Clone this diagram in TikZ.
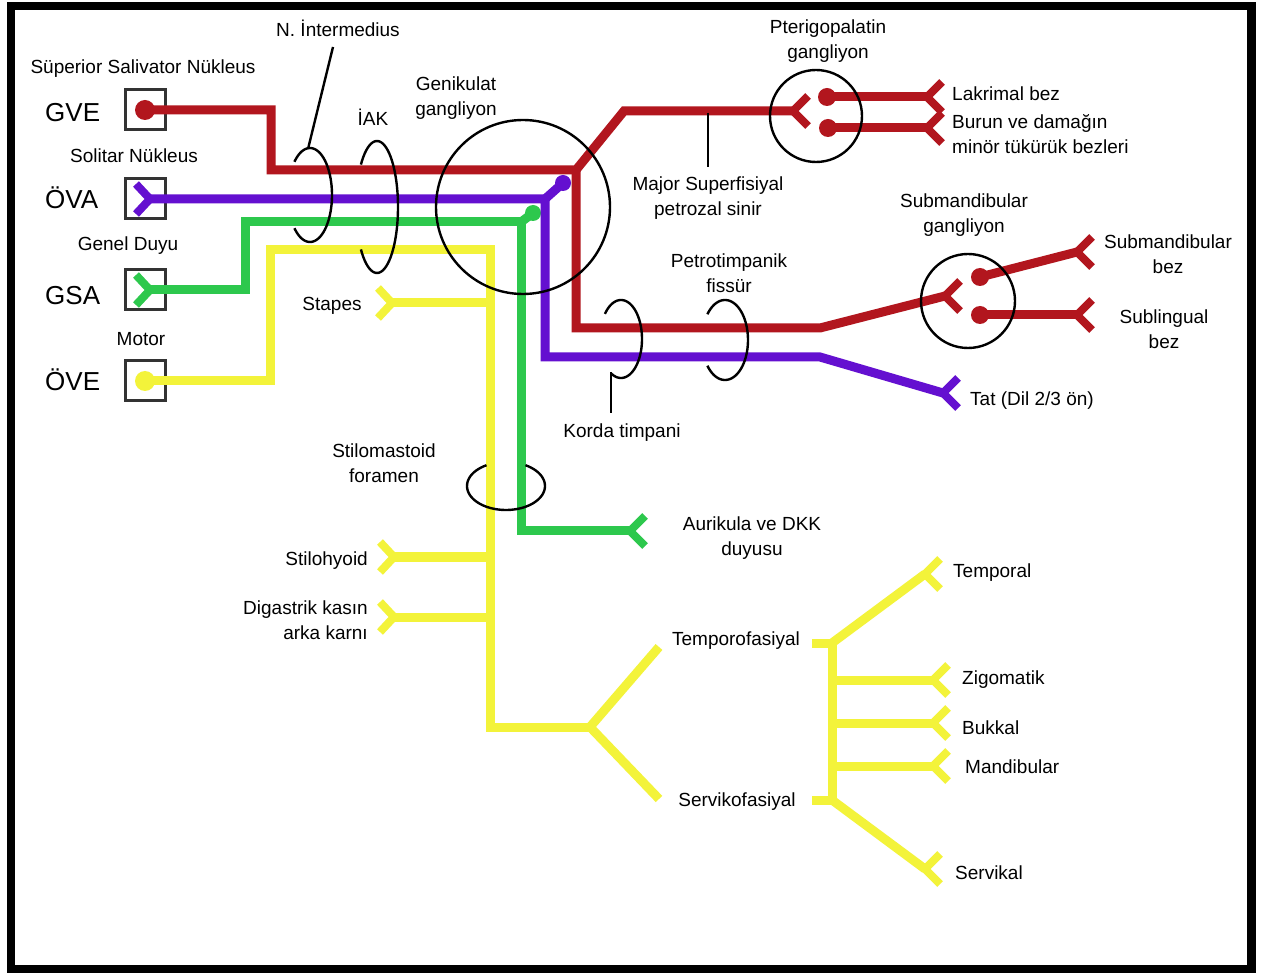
\documentclass[tikz,border=0pt]{standalone}
\usepackage{fontspec}
\setmainfont{Liberation Sans}
\definecolor{nred}{HTML}{B2161E}
\definecolor{npur}{HTML}{6410D0}
\definecolor{ngrn}{HTML}{2DC84D}
\definecolor{nyel}{HTML}{F3F33A}
\newcommand\forkR[2]{\draw[fork,#1] #2 ++(15,-15) -- ++(-15,15) -- ++(15,15);}
\newcommand\forkL[2]{\draw[fork,#1] #2 ++(-14,-15) -- ++(14,15) -- ++(-14,15);}
\newcommand\ringarc[6]{\draw[ring] plot[domain=#5:#6, samples=60, smooth] ({#1+#3*cos(\x)},{#2+#4*sin(\x)});}
\begin{document}
\begin{tikzpicture}[x=1pt,y=-1pt,
  nerve/.style={line width=9pt, line join=miter},
  fork/.style={line width=8pt, line join=miter},
  lbl/.style={font=\fontsize{19}{25}\selectfont, inner sep=0pt, align=center},
  sl/.style={yshift=-2.5pt},
  big/.style={font=\fontsize{26}{30}\selectfont, inner sep=0pt},
  ring/.style={line width=2.4pt, black},
  nbox/.style={draw=black!80, line width=3pt, minimum size=40pt, inner sep=0pt},
]
\useasboundingbox (0,0) rectangle (1262,973);
\fill[white] (0,0) rectangle (1262,973);
\draw[line width=8.5pt] (11,6) rectangle (1251.5,969);

% nucleus boxes
\node[nbox] (bgve) at (145,110) {};
\node[nbox] (bova) at (145,199) {};
\node[nbox] (bgsa) at (145,290) {};
\node[nbox] (bove) at (145,381) {};

% coordinates
\coordinate (rG) at (576,170);
\coordinate (pJ) at (545,199);
\coordinate (gJ) at (521,222);
\coordinate (ptf) at (793,111);
\coordinate (smf) at (945,296);
\coordinate (lak) at (927,97);
\coordinate (bur) at (927,128);
\coordinate (smb) at (1077,252);
\coordinate (slb) at (1077,315);
\coordinate (tat) at (943,393);
\coordinate (aur) at (630,531);
\coordinate (stp) at (392,303);
\coordinate (sth) at (394,557);
\coordinate (dig) at (394,617);
\coordinate (tmp) at (925,574);
\coordinate (zig) at (933,680);
\coordinate (buk) at (933,723);
\coordinate (man) at (933,766);
\coordinate (srv) at (925,869);
\coordinate (yF) at (590,727);

% red (GVE)
\draw[nerve,nred] (bgve.center) -- (271,110) -- (271,170) -- (rG) -- (624,111) -- (ptf);
\draw[nerve,nred] (rG) -- (576,328) -- (820,328) -- (smf);
\fill[nred] (bgve.center) circle (10);
\forkR{nred}{(ptf)}
\forkR{nred}{(smf)}
\draw[nerve,nred] (827,97) -- (lak);
\draw[nerve,nred] (828,128) -- (bur);
\fill[nred] (827,97) circle (9);
\fill[nred] (828,128) circle (9);
\forkR{nred}{(lak)}
\forkR{nred}{(bur)}
\draw[nerve,nred] (980,277) -- (smb);
\draw[nerve,nred] (980,315) -- (slb);
\fill[nred] (980,277) circle (9);
\fill[nred] (980,315) circle (9);
\forkR{nred}{(smb)}
\forkR{nred}{(slb)}

% yellow (ÖVE)
\draw[nerve,nyel] (bove.center) -- (270,381) -- (270,250) -- (490,250) -- (490,727) -- (yF);
\fill[nyel] (bove.center) circle (10);
\draw[nerve,nyel] (yF) -- (659,647);
\draw[nerve,nyel] (yF) -- (659,799);
\draw[nerve,nyel] (490,303) -- (stp);
\draw[nerve,nyel] (490,557) -- (sth);
\draw[nerve,nyel] (490,617) -- (dig);
\forkL{nyel}{(stp)}
\forkL{nyel}{(sth)}
\forkL{nyel}{(dig)}
\draw[nerve,nyel] (812,643) -- (832,643) -- (832,800) -- (812,800);
\draw[nerve,nyel] (832,643) -- (tmp);
\draw[nerve,nyel] (832,680) -- (zig);
\draw[nerve,nyel] (832,723) -- (buk);
\draw[nerve,nyel] (832,766) -- (man);
\draw[nerve,nyel] (832,800) -- (srv);
\forkR{nyel}{(tmp)}
\forkR{nyel}{(zig)}
\forkR{nyel}{(buk)}
\forkR{nyel}{(man)}
\forkR{nyel}{(srv)}

% green (GSA)
\draw[nerve,ngrn] (150,290) -- (245,290) -- (245,222) -- (gJ) -- (521,531) -- (aur);
\forkL{ngrn}{(150,290)}
\forkR{ngrn}{(aur)}
\draw[nerve,ngrn] (gJ) -- (533,213);
\fill[ngrn] (533,213) circle (8);

% purple (ÖVA)
\draw[nerve,npur] (150,199) -- (pJ) -- (545,357) -- (820,357) -- (tat);
\forkL{npur}{(150,199)}
\forkR{npur}{(tat)}
\draw[nerve,npur] (pJ) -- (563,183);
\fill[npur] (563,183) circle (8);

% ganglia circles
\draw[ring] (523,207) circle (87);
\draw[ring] (816,116) circle (46);
\draw[ring] (968,301) circle (47);

% nerve rings
\ringarc{310}{195}{22}{47}{-135}{135}
\ringarc{377}{207}{21}{66}{-140}{140}
\ringarc{621}{339}{21}{39}{-140}{118}
\ringarc{725}{340}{23}{40}{-140}{140}
\ringarc{506}{486}{39}{24}{-60}{240}

% leaders
\coordinate (lintA) at (333,47);
\coordinate (lintB) at (308,149);
\draw[ring] (lintA) -- (lintB);
\draw[ring] (708,113) -- (708,167);
\draw[ring] (611,372) -- (611,413);

% labels
\node[lbl] (tnint) at (338,28) {N. İntermedius};
\node[lbl,sl] (tssn) at (143,66) {Süperior Salivator Nükleus};
\node[lbl,sl] (tsol) at (134,153) {Solitar Nükleus};
\node[lbl,sl] (tgen) at (128,243) {Genel Duyu};
\node[lbl,sl] (tmot) at (141,337) {Motor};
\node[big,anchor=base west] (tgve) at (45,122) {GVE};
\node[big,anchor=base west] (tova) at (45,209) {ÖVA};
\node[big,anchor=base west] (tgsa) at (45,305) {GSA};
\node[big,anchor=base west] (tove) at (45,391) {ÖVE};
\node[lbl] (tiak) at (373,117) {İAK};
\node[lbl] (tgk) at (456,98) {Genikulat\\gangliyon};
\node[lbl] (tpt) at (828,41) {Pterigopalatin\\gangliyon};
\node[lbl,anchor=west,sl] (tlak) at (952,91) {Lakrimal bez};
\node[lbl,anchor=west,align=left] (tbur) at (952,134) {Burun ve damağın\\minör tükürük bezleri};
\node[lbl] (tmaj) at (708,198) {Major Superfisiyal\\petrozal sinir};
\node[lbl] (tsmg) at (964,215) {Submandibular\\gangliyon};
\node[lbl] (tsmb) at (1168,254) {Submandibular\\bez};
\node[lbl] (tslb) at (1164,329) {Sublingual\\bez};
\node[lbl] (tpet) at (729,273) {Petrotimpanik\\fissür};
\node[lbl,anchor=west,sl] (ttat) at (970,398) {Tat (Dil 2/3 ön)};
\node[lbl,sl] (tkor) at (622,430) {Korda timpani};
\node[lbl] (tsti) at (384,463) {Stilomastoid\\foramen};
\node[lbl] (taur) at (752,538) {Aurikula ve DKK\\duyusu};
\node[lbl,sl] (tstp) at (332,303) {Stapes};
\node[lbl,anchor=east,sl] (tsth) at (368,558) {Stilohyoid};
\node[lbl,anchor=east,align=right] (tdig) at (368,620) {Digastrik kasın\\arka karnı};
\node[lbl,anchor=west,sl] (ttmp) at (953,570) {Temporal};
\node[lbl,sl] (ttf) at (736,638) {Temporofasiyal};
\node[lbl,anchor=west,sl] (tzig) at (962,677) {Zigomatik};
\node[lbl,anchor=west,sl] (tbuk) at (962,725) {Bukkal};
\node[lbl,anchor=west,sl] (tman) at (965,764) {Mandibular};
\node[lbl,sl] (tsf) at (737,799) {Servikofasiyal};
\node[lbl,anchor=west,sl] (tsrv) at (955,870) {Servikal};
\end{tikzpicture}
\end{document}
